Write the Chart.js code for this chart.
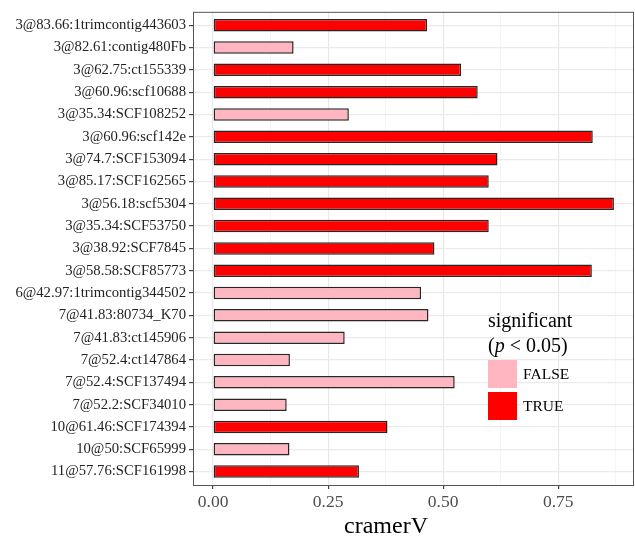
<!DOCTYPE html>
<html>
<head>
<meta charset="utf-8">
<script src="https://cdn.jsdelivr.net/npm/chart.js@4"></script>
<style>
html, body { margin: 0; padding: 0; background: #fff; }
</style>
</head>
<body>
<canvas id="cramerChart" width="635" height="537"></canvas>
<script>
// markers, top to bottom
var markers = [
    '3@83.66:1trimcontig443603', '3@82.61:contig480Fb', '3@62.75:ct155339',
    '3@60.96:scf10688', '3@35.34:SCF108252', '3@60.96:scf142e',
    '3@74.7:SCF153094', '3@85.17:SCF162565', '3@56.18:scf5304',
    '3@35.34:SCF53750', '3@38.92:SCF7845', '3@58.58:SCF85773',
    '6@42.97:1trimcontig344502', '7@41.83:80734_K70', '7@41.83:ct145906',
    '7@52.4:ct147864', '7@52.4:SCF137494', '7@52.2:SCF34010',
    '10@61.46:SCF174394', '10@50:SCF65999', '11@57.76:SCF161998'
];
var cramerV = [
    0.465, 0.175, 0.539, 0.575, 0.295, 0.825, 0.618,
    0.599, 0.871, 0.599, 0.481, 0.823, 0.452, 0.468,
    0.286, 0.167, 0.525, 0.160, 0.379, 0.166, 0.317
];
var significant = [
    true, false, true, true, false, true, true,
    true, true, true, true, true, false, false,
    false, false, false, false, true, false, true
];
var xTickValues = [0, 0.125, 0.25, 0.375, 0.5, 0.625, 0.75, 0.875];
var xTickLabels = ['0.00', '', '0.25', '', '0.50', '', '0.75', ''];
var legendLabels = ['FALSE', 'TRUE'];

var PINK = '#FFB6C1', RED = '#FF0000';

// panel border, x title and the legend (p in italics)
var decorations = {
    id: 'decorations',
    afterDraw: function (chart) {
        var c = chart.ctx, a = chart.chartArea;
        c.save();
        c.strokeStyle = '#555';
        c.lineWidth = 1;
        c.strokeRect(a.left + 0.5, a.top + 0.5, a.right - a.left - 1, a.bottom - a.top);

        c.fillStyle = '#000';
        c.textAlign = 'center';
        c.textBaseline = 'middle';
        c.font = '24px "Liberation Serif"';
        c.fillText('cramerV', 386, 527);

        c.textAlign = 'left';
        c.font = '20px "Liberation Serif"';
        c.fillText('significant', 488, 322);
        var x = 488;
        c.fillText('(', x, 347); x += c.measureText('(').width;
        c.font = 'italic 20px "Liberation Serif"';
        c.fillText('p', x, 347); x += c.measureText('p').width;
        c.font = '20px "Liberation Serif"';
        c.fillText(' < 0.05)', x, 347);

        c.font = '15.5px "Liberation Serif"';
        c.fillStyle = PINK;
        c.fillRect(488, 360, 29, 28);
        c.fillStyle = RED;
        c.fillRect(488, 392, 29, 28);
        c.fillStyle = '#000';
        c.fillText(legendLabels[0], 523, 375);
        c.fillText(legendLabels[1], 523, 407);
        c.restore();
    }
};

var ctx = document.getElementById('cramerChart');
var chart = new Chart(ctx, {
    type: 'bar',
    data: {
        datasets: [{
            data: markers.map(function (m, i) {
                return { x: cramerV[i], y: i + 1 };
            }),
            backgroundColor: significant.map(function (s) { return s ? RED : PINK; }),
            borderColor: '#262626',
            borderWidth: 1.5,
            borderSkipped: false,
            barPercentage: 0.56,
            categoryPercentage: 1
        }]
    },
    options: {
        indexAxis: 'y',
        responsive: false,
        animation: false,
        devicePixelRatio: 1,
        layout: { padding: { top: 11, right: 1, left: 0, bottom: 0 } },
        plugins: { legend: { display: false }, tooltip: { enabled: false } },
        scales: {
            x: {
                type: 'linear',
                min: -0.0436,
                max: 0.9146,
                afterBuildTicks: function (scale) {
                    scale.ticks = xTickValues.map(function (v) { return { value: v }; });
                },
                afterFit: function (scale) { scale.height = 52; },
                border: { display: false },
                grid: {
                    color: function (c) { return c.index % 2 ? '#f3f3f3' : '#e9e9e9'; },
                    lineWidth: function (c) { return c.index % 2 ? 0.8 : 1.2; },
                    tickColor: function (c) { return c.index % 2 ? 'rgba(0,0,0,0)' : '#444'; },
                    tickLength: 4
                },
                ticks: {
                    autoSkip: false,
                    maxRotation: 0,
                    padding: 3,
                    color: '#4d4d4d',
                    font: { family: 'Liberation Serif', size: 17.5 },
                    callback: function (v, i) { return xTickLabels[i]; }
                }
            },
            y: {
                type: 'linear',
                reverse: true,
                offset: false,
                min: 0.4,
                max: 21.6,
                afterBuildTicks: function (scale) {
                    scale.ticks = markers.map(function (m, i) { return { value: i + 1 }; });
                },
                afterFit: function (scale) { scale.width = 193; },
                border: { display: false },
                grid: {
                    offset: false,
                    color: '#ebebeb',
                    lineWidth: 1.2,
                    tickColor: '#444',
                    tickLength: 4
                },
                ticks: {
                    autoSkip: false,
                    padding: 3,
                    color: '#222',
                    font: { family: 'Liberation Serif', size: 14.7 },
                    callback: function (v) { return markers[v - 1]; }
                }
            }
        }
    },
    plugins: [decorations]
});
</script>
</body>
</html>
